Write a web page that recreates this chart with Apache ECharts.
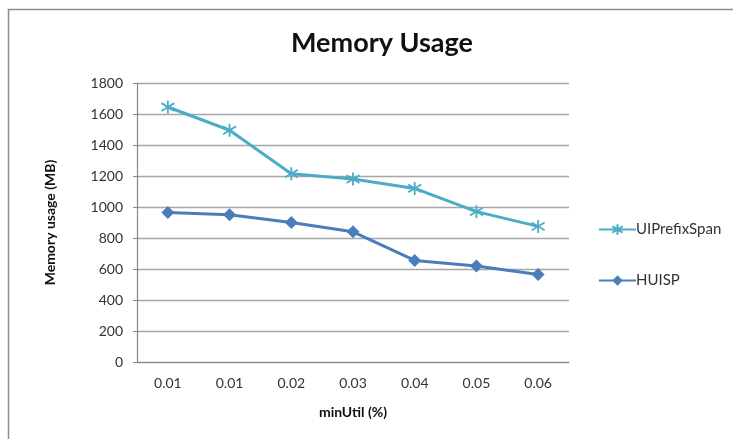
<!DOCTYPE html>
<html>
<head>
<meta charset="utf-8">
<script src="https://cdn.jsdelivr.net/npm/echarts@6/dist/echarts.min.js"></script>
<style>
  html, body { margin: 0; padding: 0; background: #fff; }
  #chart { width: 733px; height: 439px; }
</style>
</head>
<body>
<div id="chart"></div>
<script>
// minUtil thresholds (as labelled on the axis)
const categories = ['0.01', '0.01', '0.02', '0.03', '0.04', '0.05', '0.06'];
// memory usage in MB
const uiPrefixSpan = [1645, 1495, 1215, 1180, 1120, 970, 875];
const huisp = [965, 950, 900, 840, 655, 620, 565];
const yTicks = { min: 0, max: 1800, interval: 200 };

const FONT = 'Lato, "Open Sans", sans-serif';
// asterisk marker: X crossed by a vertical bar
const asterisk = 'path://M0 2 L10 8 M10 2 L0 8 M5 0 L5 10';

const chart = echarts.init(document.getElementById('chart'));
chart.setOption({
  animation: false,
  backgroundColor: '#fff',
  title: {
    text: 'Memory Usage',
    left: 377, top: 25, textAlign: 'center',
    textStyle: { fontFamily: FONT, fontSize: 27, fontWeight: 'bold', color: '#111' }
  },
  graphic: [{
    type: 'rect',
    shape: { x: 8.5, y: 9.5, width: 740, height: 440 },
    style: { fill: 'none', stroke: '#8c8c8c', lineWidth: 1.5 },
    silent: true
  }],
  legend: {
    orient: 'vertical',
    left: 593, top: 217,
    itemWidth: 37, itemHeight: 13,
    itemGap: 36,
    textStyle: { fontFamily: FONT, fontSize: 15, color: '#333', padding: [0, 0, 0, -5] },
    data: ['UIPrefixSpan', 'HUISP']
  },
  grid: { left: 137, top: 83, width: 432, height: 279, containLabel: false },
  xAxis: {
    type: 'category',
    data: categories,
    boundaryGap: true,
    name: 'minUtil (%)',
    nameLocation: 'middle',
    nameGap: 43,
    nameTextStyle: { fontFamily: FONT, fontSize: 14, fontWeight: 'bold', color: '#111' },
    axisLine: { lineStyle: { color: '#868686', width: 1.2 } },
    axisTick: { show: false },
    axisLabel: { fontFamily: FONT, fontSize: 14, color: '#333', margin: 14 }
  },
  yAxis: {
    type: 'value',
    min: yTicks.min, max: yTicks.max, interval: yTicks.interval,
    name: 'Memory usage (MB)',
    nameLocation: 'middle',
    nameGap: 80,
    nameTextStyle: { fontFamily: FONT, fontSize: 14, fontWeight: 'bold', color: '#111' },
    axisLine: { show: true, lineStyle: { color: '#868686', width: 1.2 } },
    axisTick: { show: true, length: 4, lineStyle: { color: '#868686' } },
    axisLabel: {
      fontFamily: FONT, fontSize: 14, color: '#333', margin: 14,
      formatter: v => String(v)
    },
    splitLine: { lineStyle: { color: '#a6a6a6', width: 1.4 } }
  },
  series: [
    {
      name: 'UIPrefixSpan',
      type: 'line',
      data: uiPrefixSpan,
      symbol: asterisk,
      symbolSize: 13,
      lineStyle: { color: '#4bacc6', width: 3 },
      itemStyle: { color: '#4bacc6', borderColor: '#4bacc6', borderWidth: 1.8 }
    },
    {
      name: 'HUISP',
      type: 'line',
      data: huisp,
      symbol: 'diamond',
      symbolSize: 13,
      lineStyle: { color: '#4a7ebb', width: 3 },
      itemStyle: { color: '#4a7ebb' }
    }
  ]
});
</script>
</body>
</html>
